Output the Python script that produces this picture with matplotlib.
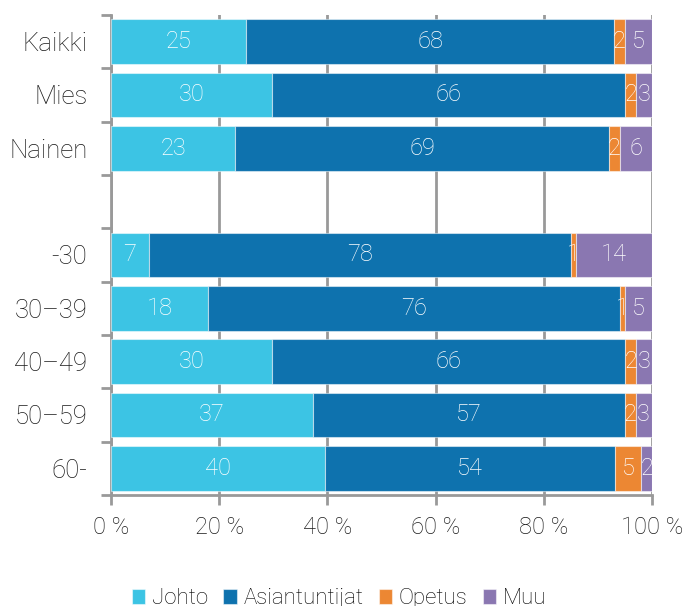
import matplotlib
matplotlib.use("Agg")
import matplotlib.pyplot as plt
import numpy as np

categories = ["Kaikki", "Mies", "Nainen", "-30", "30–39", "40–49", "50–59", "60-"]
positions = [0, 1, 2, 4, 5, 6, 7, 8]  # row 3 is an empty gap
series = ["Johto", "Asiantuntijat", "Opetus", "Muu"]
johto = [25, 30, 23, 7, 18, 30, 37, 40]
asiantuntijat = [68, 66, 69, 78, 76, 66, 57, 54]
opetus = [2, 2, 2, 1, 1, 2, 2, 5]
muu = [5, 3, 6, 14, 5, 3, 3, 2]
colors = ["#3CC4E4", "#0E72AE", "#EC8733", "#8A77B1"]
xticks = [0, 20, 40, 60, 80, 100]

plt.rcParams["font.family"] = ["Roboto", "DejaVu Sans"]
fs = 17

fig = plt.figure(figsize=(6.85, 6.06), dpi=100)
ax = fig.add_axes([111/685, 1-495/606, 541/685, 480/606])

data = np.array([johto, asiantuntijat, opetus, muu], dtype=float)
totals = data.sum(axis=0)
shares = data / totals * 100
left = np.zeros(len(categories))
for i, name in enumerate(series):
    ax.barh(positions, shares[i], left=left, height=0.84, color=colors[i],
            edgecolor=(1, 1, 1, 0.5), linewidth=0.8, label=name, zorder=3)
    for p, l, w, v in zip(positions, left, shares[i], data[i]):
        ax.text(l + w/2, p, f"{int(v)}", ha="center", va="center",
                color="white", fontsize=fs, fontweight="light", zorder=4)
    left += shares[i]

ax.set_xlim(0, 100)
ax.set_ylim(8.5, -0.5)
ax.set_xticks(xticks)
ax.set_xticklabels([f"{t} %" for t in xticks], fontsize=fs, fontweight="light", color="#1a1a1a")
ax.set_yticks(positions)
ax.set_yticklabels(categories, fontsize=18.5, fontweight="light", color="#1a1a1a")
ax.set_yticks(np.arange(-0.5, 9.0, 1.0), minor=True)
ax.tick_params(axis="y", which="major", length=0, pad=17)
ax.tick_params(axis="y", which="minor", length=7, width=2, color="#999999", direction="out")
ax.tick_params(axis="x", which="major", length=7, width=2, color="#999999", direction="out", pad=8)
ax.grid(axis="x", color="#999999", linewidth=2, zorder=0)
for s in ["top", "right"]:
    ax.spines[s].set_visible(False)
for s in ["left", "bottom"]:
    ax.spines[s].set_color("#999999")
    ax.spines[s].set_linewidth(2)

handles, labels = ax.get_legend_handles_labels()
fig.legend(handles, labels, loc="center", bbox_to_anchor=(0.495, 0.012), ncol=4,
           frameon=False, handlelength=0.6, handleheight=0.65,
           handletextpad=0.3, columnspacing=0.7, prop={"weight": "light", "size": 16})

fig.savefig("out.png", dpi=100)
